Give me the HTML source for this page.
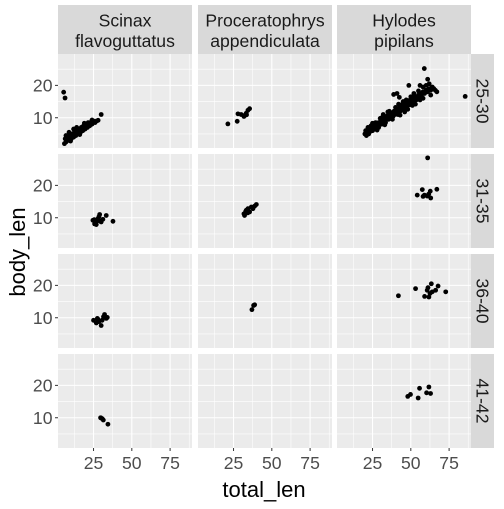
<!DOCTYPE html>
<html><head><meta charset="utf-8"><style>
html,body{margin:0;padding:0;background:#fff;}
svg text{font-family:"Liberation Sans",sans-serif;}
</style></head><body>
<svg id="chart" width="504" height="504" xmlns="http://www.w3.org/2000/svg"></svg>
<script>
const species = ["Scinax\nflavoguttatus", "Proceratophrys\nappendiculata", "Hylodes\npipilans"];
const ageGroups = ["25-30", "31-35", "36-40", "41-42"];
const xTicks = [25, 50, 75];
const yTicks = [10, 20];
// data points per [species][ageGroup] as [total_len, body_len]
const scinax2530 = [[6,2],[6.5,3.5],[7,2.5],[7.5,3],[8,4],[8.5,3],[9,3.5],[9.5,4.5],[10,4],[10.5,3.5],[11,5],[11.5,4.5],[12,4],[12.5,5.5],[13,5],[13.5,4.5],[14,6],[14.5,5.5],[15,5],[15.5,6.5],[16,6],[16.5,5.5],[17,7],[17.5,6.5],[18,6],[18.5,7.5],[19,7],[19.5,6.5],[20,7.5],[20.5,8],[21,7],[21.5,8.5],[22,8],[22.5,7.5],[23,8.5],[24,8],[25,9],[26,8.5],[27,9],[28,9.2],[12,6.5],[14,7],[9,5.5],[30,11],[5.5,17.9],[6.4,16.1],[7,4.5],[10,2.8],[16,4.8],[19,8.3],[24,9.3]];
const scinax3135 = [[24.6,9.2],[25.7,8.1],[26.5,8.7],[27.9,9.7],[29,11],[29,9],[30,8.7],[26.8,7.9],[33.3,10.7],[37.7,8.9],[31.1,9.5],[25.5,9.4],[28.5,10.3]];
const scinax3640 = [[25,9.2],[26.8,8.4],[27.9,9.5],[30,7.6],[32.2,11],[34,10.1],[30.6,9.2],[28.5,8.8],[27.5,9.8],[33.3,9.8],[31.5,10.3]];
const scinax4142 = [[29.6,10],[30.7,9.7],[31.4,9.3],[34.4,8.0],[30,9.9]];
const procer2530 = [[21.3,8.1],[27.4,8.9],[27.9,11.2],[30,11],[31.8,10.4],[32.2,10.7],[33.3,11.4],[34.4,12.3],[35.5,12.8],[33.5,10.9]];
const procer3135 = [[32.2,10.7],[33.3,12.3],[34.4,12.8],[36.6,13.3],[39.9,14.1],[35.5,11.8],[31.8,11.2],[37.7,12.8],[38.8,13.6],[34.2,11.5],[32.9,11.9]];
const procer3640 = [[37,12.5],[38.8,14],[38.1,13.8]];
const procer4142 = [];
const hylodes2530 = [[20,5],[20.5,6],[21,5.5],[21,4.5],[22,6],[22.5,5],[23,6.5],[23,5.5],[24,6],[24.5,7],[25,6],[25,7],[26,6.5],[26.5,7.5],[27,7],[27.5,6.5],[28,8],[28.5,7.5],[29,7],[29,8.5],[30,8],[30.5,9],[31,8],[31.5,8.5],[32,9],[32.5,10],[33,9],[33.5,8.5],[34,9.5],[34.5,10.5],[35,10],[35.5,9.5],[36,11],[36.5,10],[37,10.5],[37.5,11.5],[38,11],[38.5,10.5],[39,12],[39.5,11],[40,11.5],[40.5,12.5],[41,12],[41.5,11],[42,12.5],[42.5,13],[43,12],[43.5,13.5],[44,12.5],[44.5,13],[45,13.5],[45.5,14],[46,13],[46.5,14.5],[47,14],[47.5,13.5],[48,14.5],[48.5,15],[49,14],[49.5,15.5],[50,15],[50.5,14.5],[51,15.5],[51.5,16],[52,15],[52.5,16.5],[53,16],[53.5,15.5],[54,16.5],[55,17],[55.5,16],[56,17.5],[57,17],[58,18],[59,17.5],[60,18.5],[61,18],[62,19],[63,18.5],[64,19.5],[65,19],[66,18.5],[67,18],[60,20],[62,20.5],[58,19.5],[38.8,17.2],[41,17.5],[42.5,16.3],[48.7,20],[56,20],[61,21.9],[58.8,25.2],[85.5,16.6],[63,17],[52,17.5],[47,15.5],[44,14],[36,12],[31,10],[27,8.5],[24,7.5],[22,7],[28,6.2],[33,7.8],[38,9.5],[43,10.8],[48,12.6],[53,14.2],[58,16],[30,9.8],[35,11.8],[40,13.2],[45,15],[50,16.5],[55,18.3],[25,8.3],[32,11],[42,14.2],[46,11.8],[51,13.8],[56,15.5]];
const hylodes3135 = [[61,28.5],[54.2,17],[57.5,18.7],[58.9,17],[60.7,16.7],[62.7,18.2],[63,16.1],[67,18.8],[58,16.6],[61.7,17.3]];
const hylodes3640 = [[41.9,16.8],[53.1,19],[63.4,20.5],[67.8,19.8],[72.8,18],[59,16.6],[60.7,18.5],[61.8,16.4],[62.5,17.5],[64,18],[66.2,18.5],[61.2,19.3]];
const hylodes4142 = [[48,16.6],[49.8,17.2],[54.8,16.1],[55.7,19.1],[61.8,19.5],[60.3,17.7],[62.9,17.5]];
const panelData = [
  [scinax2530, scinax3135, scinax3640, scinax4142],
  [procer2530, procer3135, procer3640, procer4142],
  [hylodes2530, hylodes3135, hylodes3640, hylodes4142]
];

const NS = "http://www.w3.org/2000/svg";
const svg = document.getElementById("chart");
const colLeft = [58, 198, 337], PW = 134;
const rowTop = [54, 154, 254, 354], PH = 94;
const xMin = 1.8, xMax = 89.3, yMin = 0.65, yMax = 29.7;
function xs(c, v){ return colLeft[c] + (v - xMin) / (xMax - xMin) * PW; }
function ys(r, v){ return rowTop[r] + PH - (v - yMin) / (yMax - yMin) * PH; }
function mk(tag, attrs, parent){ const e = document.createElementNS(NS, tag); for (const k in attrs) e.setAttribute(k, attrs[k]); (parent||svg).appendChild(e); return e; }

species.forEach((s, c) => {
  const g = mk("g", {});
  
  
  mk("rect", {x: colLeft[c], y: 5, width: PW, height: 49, fill: "#D9D9D9"}, g);
  s.split("\n").forEach((line, i) => {
    const t = mk("text", {x: colLeft[c] + PW/2, y: 26.5 + i*20.5, "text-anchor": "middle", "font-size": 17.6, fill: "#1A1A1A"}, g);
    t.textContent = line;
  });
});
ageGroups.forEach((a, r) => {
  const g = mk("g", {});
  
  
  mk("rect", {x: 471, y: rowTop[r], width: 23, height: PH, fill: "#D9D9D9"}, g);
  const cx = 482.5, cy = rowTop[r] + PH/2;
  const t = mk("text", {x: cx, y: cy + 6, "text-anchor": "middle", "font-size": 17.6, fill: "#1A1A1A", transform: `rotate(90 ${cx} ${cy})`}, g);
  t.textContent = a;
});
for (let c = 0; c < 3; c++) for (let r = 0; r < 4; r++) {
  const g = mk("g", {});
  
  
  mk("rect", {x: colLeft[c], y: rowTop[r], width: PW, height: PH, fill: "#EBEBEB"}, g);
  [12.5, 37.5, 62.5, 87.5].forEach(v => mk("line", {x1: xs(c,v), x2: xs(c,v), y1: rowTop[r], y2: rowTop[r]+PH, stroke: "#fff", "stroke-width": 0.55}, g));
  [5, 15, 25].forEach(v => mk("line", {x1: colLeft[c], x2: colLeft[c]+PW, y1: ys(r,v), y2: ys(r,v), stroke: "#fff", "stroke-width": 0.55}, g));
  xTicks.forEach(v => mk("line", {x1: xs(c,v), x2: xs(c,v), y1: rowTop[r], y2: rowTop[r]+PH, stroke: "#fff", "stroke-width": 1.1}, g));
  yTicks.forEach(v => mk("line", {x1: colLeft[c], x2: colLeft[c]+PW, y1: ys(r,v), y2: ys(r,v), stroke: "#fff", "stroke-width": 1.1}, g));
  panelData[c][r].forEach(p => {
    const pt = mk("circle", {cx: xs(c,p[0]), cy: ys(r,p[1]), r: 2.4, fill: "#000"}, g);
    
    
  });
}
for (let r = 0; r < 4; r++) yTicks.forEach(v => {
  mk("line", {x1: 55, x2: 58, y1: ys(r,v), y2: ys(r,v), stroke: "#333", "stroke-width": 1});
  const t = mk("text", {x: 52.5, y: ys(r,v) + 6.2, "text-anchor": "end", "font-size": 17.6, fill: "#4D4D4D"});
  
  
  t.textContent = v;
});
for (let c = 0; c < 3; c++) xTicks.forEach(v => {
  mk("line", {x1: xs(c,v), x2: xs(c,v), y1: 448, y2: 451, stroke: "#333", "stroke-width": 1});
  const t = mk("text", {x: xs(c,v), y: 469, "text-anchor": "middle", "font-size": 17.6, fill: "#4D4D4D"});
  
  
  t.textContent = v;
});
const xt = mk("text", {x: 264, y: 497, "text-anchor": "middle", "font-size": 22, fill: "#000"});


xt.textContent = "total_len";
const yt = mk("text", {x: 0, y: 0, "text-anchor": "middle", "font-size": 22, fill: "#000", transform: "translate(25 252) rotate(-90)"});


yt.textContent = "body_len";
</script>
</body></html>
